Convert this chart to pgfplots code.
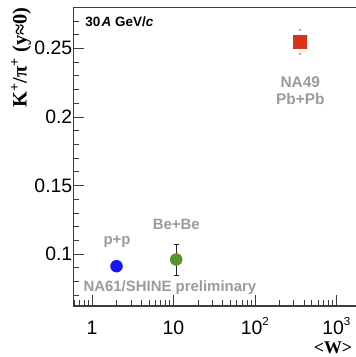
\documentclass[border=0pt]{standalone}
\usepackage{fontspec}
\setmainfont{Liberation Sans}
\newfontfamily\timesfont{Liberation Serif}
\usepackage{pgfplots}
\pgfplotsset{compat=1.18}

\definecolor{axisgray}{RGB}{60,60,60}
\definecolor{labelgray}{RGB}{155,155,155}
\definecolor{ppblue}{RGB}{25,20,240}
\definecolor{begreen}{RGB}{85,150,40}
\definecolor{pbred}{RGB}{220,50,25}
\definecolor{pbredlight}{RGB}{240,140,130}

% exponent of a power-of-ten tick label
\newcommand\expo[1]{\raisebox{8.6bp}{\fontsize{11.7}{12}\selectfont #1}}

\begin{document}
\begin{tikzpicture}
\begin{axis}[
  scale only axis,
  width=303.7bp, height=298.7bp,
  xmode=log, xmin=0.589, xmax=3162,
  ymin=0.06208, ymax=0.2799,
  clip=false,
  axis line style={axisgray, line width=1.1bp},
  tick style={axisgray, line width=0.7bp},
  tick align=inside,
  xtick pos=left, ytick pos=left,
  major tick length=11bp, minor tick length=5.5bp,
  xtick={1,10,100,1000},
  xticklabels={1,10,{10\expo{2}},{10\expo{3}}},
  minor xtick={0.6,0.7,0.8,0.9,2,3,4,5,6,7,8,9,20,30,40,50,60,70,80,90,200,300,400,500,600,700,800,900,2000,3000},
  ytick={0.1,0.15,0.2,0.25},
  yticklabels={0.1,0.15,0.2,0.25},
  minor ytick={0.07,0.08,0.09,0.11,0.12,0.13,0.14,0.16,0.17,0.18,0.19,0.21,0.22,0.23,0.24,0.26,0.27},
  tick label style={font=\fontsize{19.5}{22}\selectfont, inner sep=0pt},
  yticklabel style={anchor=east, xshift=-0.8bp},
  xticklabel style={anchor=base, yshift=-28bp},
  xlabel={<W>},
  xlabel style={at={(rel axis cs:0.8551,-0.1600)}, anchor=base, inner sep=0pt,
    font=\timesfont\bfseries\fontsize{18}{20}\selectfont},
  ylabel={K\textsuperscript{+}/π\textsuperscript{+} (y≈0)},
  ylabel style={at={(rel axis cs:-0.1534,1)}, rotate=0, anchor=base east, inner sep=0pt,
    font=\timesfont\bfseries\fontsize{20.5}{22}\selectfont},
]
% page corners
\coordinate (bbsw) at (rel axis cs:0,0);
\coordinate (bbnw) at (rel axis cs:0,1);

% NA61/SHINE p+p
\addplot[only marks, mark=*, mark size=6bp, mark options={draw=ppblue, fill=ppblue}]
  coordinates {(2.0,0.0911)};

% NA61/SHINE Be+Be
\addplot[only marks, mark=*, mark size=6bp, mark options={draw=begreen, fill=begreen},
  error bars/.cd, y dir=both, y explicit,
  error bar style={black!85, line width=0.7bp},
  error mark options={black!85, rotate=90, mark size=2.5bp, line width=0.7bp}]
  coordinates {(10.8,0.0960) +- (0,0.0113)};

% NA49 Pb+Pb
\addplot[only marks, mark=square*, mark size=6.2bp, mark options={draw=pbred, fill=pbred},
  error bars/.cd, y dir=both, y explicit,
  error bar style={pbredlight, line width=1.8bp,
    dash pattern=on 1.8bp off 9.2bp on 1.85bp off 11bp on 1.8bp off 60bp},
  error mark=none]
  coordinates {(356,0.2548) +- (0,0.0094)};

\node[anchor=base west, inner sep=0pt, font=\bfseries\fontsize{13.5}{15}\selectfont]
  at (axis cs:0.827,0.2657) {30\kern1.2bp\textit{A} GeV/\textit{c}};
\node[anchor=base, inner sep=0pt, labelgray, font=\bfseries\fontsize{15.5}{17}\selectfont]
  at (axis cs:361,0.2216) {NA49};
\node[anchor=base, inner sep=0pt, labelgray, font=\bfseries\fontsize{15.5}{17}\selectfont]
  at (axis cs:361,0.2089) {Pb+Pb};
\node[anchor=base, inner sep=0pt, labelgray, font=\bfseries\fontsize{15}{17}\selectfont]
  at (axis cs:10.84,0.1178) {Be+Be};
\node[anchor=base, inner sep=0pt, labelgray, font=\bfseries\fontsize{15}{17}\selectfont]
  at (axis cs:2.028,0.1069) {p+p};
\node[anchor=base west, inner sep=0pt, labelgray, font=\bfseries\fontsize{15}{17}\selectfont]
  at (axis cs:0.782,0.0730) {NA61/SHINE preliminary};
\end{axis}
\pgfresetboundingbox
\path[use as bounding box] ([xshift=-73.3bp,yshift=-51bp]bbsw) rectangle ([xshift=282.7bp,yshift=7.3bp]bbnw);
\end{tikzpicture}
\end{document}
